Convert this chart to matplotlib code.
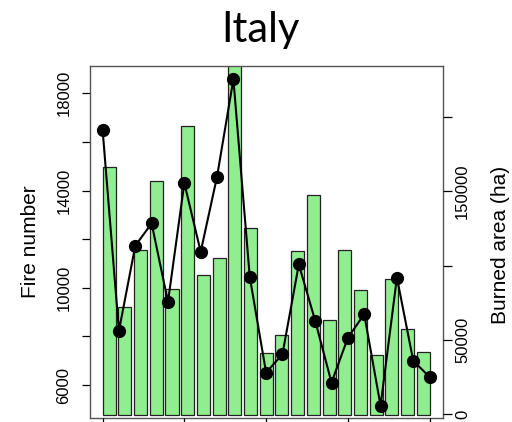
import numpy as np
import matplotlib
matplotlib.use("Agg")
import matplotlib.pyplot as plt

# Italy: yearly fire number (bars) and burned area (line)
years = [1990, 1991, 1992, 1993, 1994, 1995, 1996, 1997, 1998, 1999, 2000,
         2001, 2002, 2003, 2004, 2005, 2006, 2007, 2008, 2009, 2010]
fire_number = [14980, 9210, 11570, 14400, 9940, 16650, 10510, 11210, 19500, 12450, 7300,
               8060, 11520, 13800, 8690, 11570, 9920, 7220, 10350, 8290, 7340]
burned_area = [191300, 56100, 113300, 128300, 75600, 155400, 109200, 159700, 225200, 92400, 28000,
               40400, 100700, 63000, 21300, 51400, 67300, 5800, 91900, 35900, 25100]

left_ticks = [6000, 8000, 10000, 12000, 14000, 16000, 18000]
left_labels = ["6000", "", "10000", "", "14000", "", "18000"]
right_ticks = [0, 50000, 100000, 150000, 200000]
right_labels = ["0", "50000", "", "150000", ""]

plt.rcParams["font.family"] = ["Liberation Sans", "DejaVu Sans"]

fig = plt.figure(figsize=(5.12, 4.22), dpi=100)
pos = [89.5 / 512, 1 - 417.7 / 422, 353.2 / 512, 351.7 / 422]

# bars on the left axis
ax = fig.add_axes(pos)
idx = np.arange(len(years))
base = 4766
ax.bar(idx, np.array(fire_number) - base, bottom=base, width=0.833,
       color="#90ee90", edgecolor="#222222", linewidth=0.9)
ax.set_xlim(-1.254, 21.235)
ax.set_ylim(4655, 19123)
ax.set_yticks(left_ticks)
ax.set_yticklabels(left_labels, rotation=90, va="center", fontsize=12)
ax.tick_params(axis="y", direction="out", length=6, width=0.9, pad=7)
ax.set_xticks([])
for s in ax.spines.values():
    s.set_color("#555555")
    s.set_linewidth(1.0)

# burned area on the right axis
ax2 = fig.add_axes(pos, frameon=False)
ax2.plot(years, burned_area, color="black", linewidth=1.5, marker="o",
         markersize=8.5, markerfacecolor="black")
ax2.set_xlim(1989.2, 2010.8)
ax2.set_ylim(-2285, 234073)
ax2.yaxis.tick_right()
ax2.set_yticks(right_ticks)
ax2.set_yticklabels(right_labels, rotation=90, va="center", fontsize=12)
ax2.tick_params(axis="y", direction="out", length=6.5, width=0.9, pad=2.5)
ax2.set_xticks([1990, 1995, 2000, 2005, 2010])
ax2.set_xticklabels([])
ax2.tick_params(axis="x", direction="out", length=6, width=0.9)
ax2.spines["right"].set_visible(True)
ax2.spines["right"].set_bounds(0, 200000)
ax2.spines["right"].set_color("black")
ax2.spines["right"].set_linewidth(1.0)

fig.text(30 / 512, 1 - 242 / 422, "Fire number", rotation=90,
         ha="center", va="center", fontsize=15)
fig.text(501 / 512, 1 - 245 / 422, "Burned area (ha)", rotation=90,
         ha="center", va="center", fontsize=15)
fig.text(260 / 512, 1 - 42.3 / 422, "Italy", ha="center", va="baseline",
         fontsize=30, family=["Lato", "DejaVu Sans"])

fig.savefig("out.png", dpi=100)
